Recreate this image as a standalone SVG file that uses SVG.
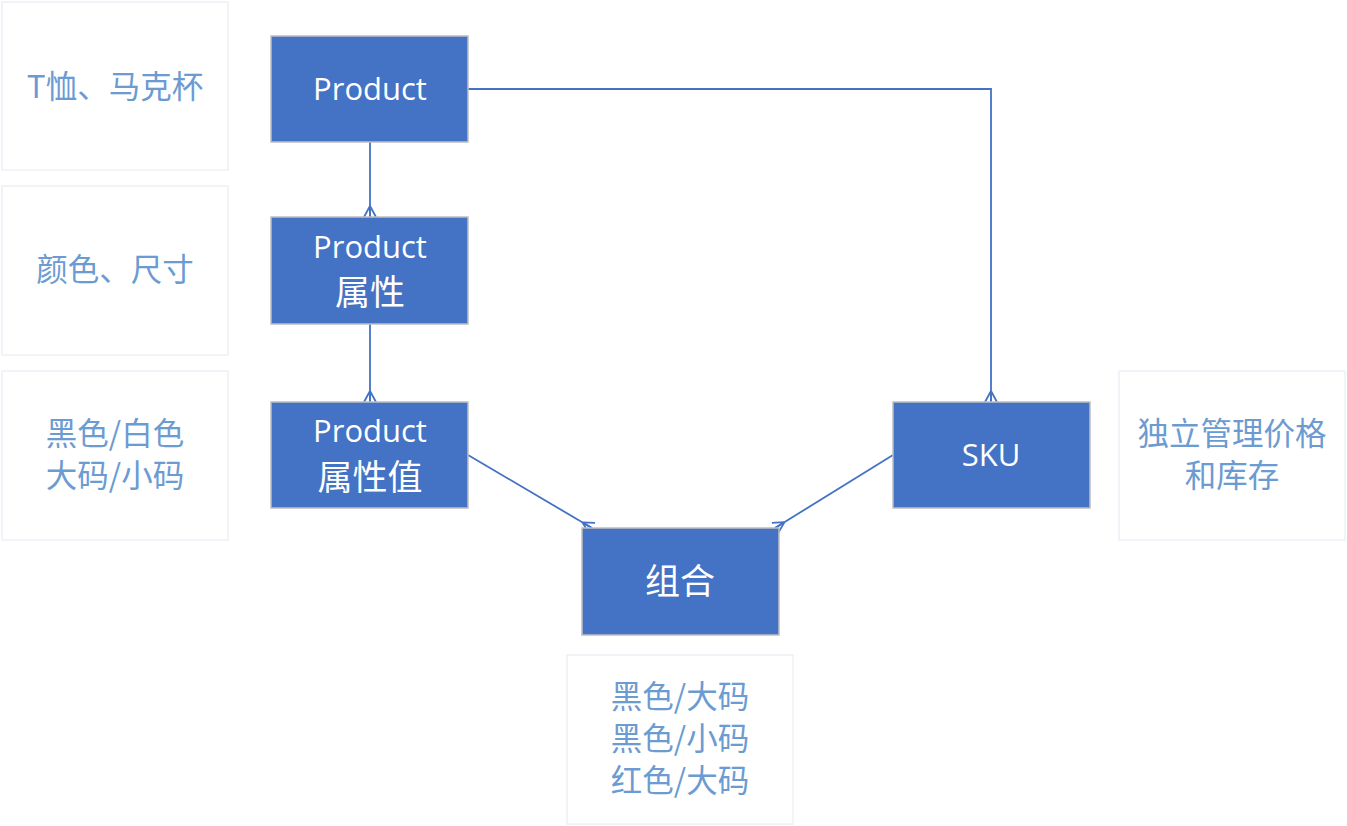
<svg xmlns="http://www.w3.org/2000/svg" width="1347" height="826" viewBox="0 0 1347 826">
<style>
.box{fill:#4472C4;stroke:#BFBFBF;stroke-width:1.5}
.note{fill:#FFFFFF;stroke:#EEF0F6;stroke-width:1.5}
.bt{fill:#FFFFFF;font-family:"Open Sans","Noto Sans CJK SC",sans-serif;font-size:31px;text-anchor:middle}
.bc{fill:#FFFFFF;font-family:"Noto Sans CJK SC",sans-serif;font-size:35px;text-anchor:middle}
.nt{fill:#6C9BD2;font-family:"Noto Sans CJK SC",sans-serif;font-size:31.5px;text-anchor:middle}
.ln{fill:none;stroke:#4472C4;stroke-width:1.8;marker-end:url(#crow)}
</style>
<defs>
<marker id="crow" viewBox="0 0 11 12" refX="11" refY="6" markerWidth="11" markerHeight="12" markerUnits="userSpaceOnUse" orient="auto" overflow="visible">
<path d="M0,6 L11,0 M0,6 L11,6 M0,6 L11,12" fill="none" stroke="#4472C4" stroke-width="1.8"/>
</marker>
</defs>
<rect width="1347" height="826" fill="#FFFFFF"/>
<g id="connectors">
<path class="ln" d="M370,142 L370,217"/>
<path class="ln" d="M370,324 L370,402"/>
<path class="ln" d="M468,89 L991,89 L991,402"/>
<path class="ln" d="M468,455 L592,528"/>
<path class="ln" d="M893,455 L775,528"/>
</g>
<g id="note-product"><rect class="note" x="2" y="2" width="226" height="168"/><text class="nt" x="115" y="98">T恤、马克杯</text></g>
<g id="note-attr"><rect class="note" x="2" y="186" width="226" height="169"/><text class="nt" x="115" y="281">颜色、尺寸</text></g>
<g id="note-value"><rect class="note" x="2" y="371" width="226" height="169"/><text class="nt" x="115" y="445">黑色/白色</text><text class="nt" x="115" y="487">大码/小码</text></g>
<g id="note-sku"><rect class="note" x="1119" y="371" width="226" height="169"/><text class="nt" x="1232" y="445">独立管理价格</text><text class="nt" x="1232" y="487">和库存</text></g>
<g id="note-combo"><rect class="note" x="567" y="655" width="226" height="169"/><text class="nt" x="680" y="708">黑色/大码</text><text class="nt" x="680" y="750">黑色/小码</text><text class="nt" x="680" y="792">红色/大码</text></g>
<g id="product"><rect class="box" x="271" y="36" width="197" height="106"/><text class="bt" x="370" y="100">Product</text></g>
<g id="product-attr"><rect class="box" x="271" y="217" width="197" height="107"/><text class="bt" x="370" y="258">Product</text><text class="bc" x="370" y="305">属性</text></g>
<g id="product-attr-value"><rect class="box" x="271" y="402" width="197" height="106"/><text class="bt" x="370" y="442">Product</text><text class="bc" x="370" y="490">属性值</text></g>
<g id="combo"><rect class="box" x="582" y="528" width="197" height="107"/><text class="bc" x="680" y="594">组合</text></g>
<g id="sku"><rect class="box" x="893" y="402" width="197" height="106"/><text class="bt" x="991" y="466">SKU</text></g>
</svg>
